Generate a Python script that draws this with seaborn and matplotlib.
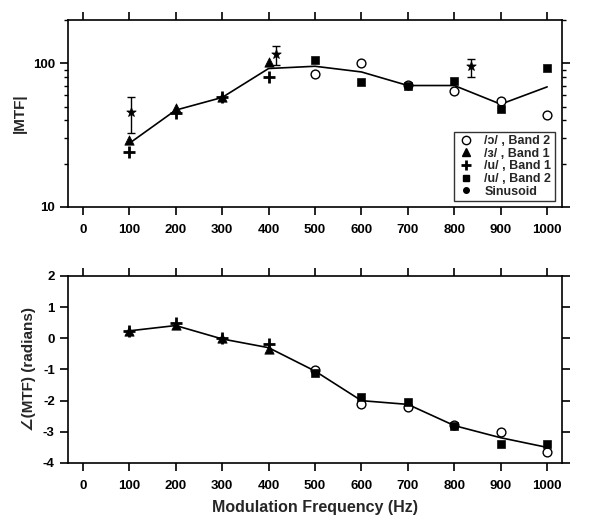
import matplotlib
matplotlib.use('AGG')
import matplotlib.pyplot as plt
from matplotlib.ticker import FixedLocator, NullFormatter, FuncFormatter, LogLocator
from matplotlib.lines import Line2D
import seaborn as sns
import numpy as np

freq = [100, 200, 300, 400, 500, 600, 700, 800, 900, 1000]

# magnitude panel
mag_fit = [27.7, 47.2, 57.8, 91.9, 95.3, 87.0, 70.0, 70.0, 51.9, 68.5]
o2_x = [500, 600, 700, 800, 900, 1000]
o2_mag = [84.8, 100.5, 71.0, 64.2, 54.7, 43.5]
e1_x = [100, 200, 300, 400]
e1_mag = [29.2, 49.0, 58.0, 102.0]
u1_x = [100, 200, 300, 400]
u1_mag = [24.2, 45.2, 58.0, 80.3]
u2_x = [500, 600, 700, 800, 900, 1000]
u2_mag = [105.0, 73.5, 70.0, 75.0, 48.2, 93.3]
sin_x = [103, 417, 835]
sin_mag = [45.9, 116.8, 95.3]
sin_lo = [32.8, 96.8, 80.3]
sin_hi = [58.3, 131.0, 106.6]

# phase panel
phase_fit = [0.24, 0.41, -0.02, -0.30, -1.05, -2.00, -2.12, -2.80, -3.19, -3.50]
o2_ph = [-1.02, -2.11, -2.21, -2.77, -3.00, -3.66]
e1_ph = [0.24, 0.43, 0.02, -0.35]
u1_ph = [0.24, 0.48, 0.00, -0.19]
u2_ph = [-1.12, -1.89, -2.03, -2.81, -3.39, -3.39]

labels = ['/\u0254/ , Band 2', '/\u025c/ , Band 1', '/u/ , Band 1', '/u/ , Band 2', 'Sinusoid']

sns.set_style('ticks')
plt.rcParams['font.family'] = ['Liberation Sans', 'DejaVu Sans']
plt.rcParams['font.weight'] = 'bold'
plt.rcParams['axes.labelweight'] = 'bold'
plt.rcParams['axes.unicode_minus'] = False
plt.rcParams['axes.linewidth'] = 1.2
for a in ('x', 'y'):
    plt.rcParams[a + 'tick.direction'] = 'out'
    plt.rcParams[a + 'tick.major.size'] = 6
    plt.rcParams[a + 'tick.minor.size'] = 3
    plt.rcParams[a + 'tick.major.width'] = 1.2
    plt.rcParams[a + 'tick.minor.width'] = 1.0
    plt.rcParams[a + 'tick.color'] = 'black'
    plt.rcParams[a + 'tick.labelsize'] = 9.5

fig = plt.figure(figsize=(6, 5.26), dpi=100)
ax1 = fig.add_axes([0.1133, 0.6065, 0.8234, 0.3555])
ax2 = fig.add_axes([0.1133, 0.1198, 0.8234, 0.3555])

def draw_points(ax, o, e, u, u2):
    sns.scatterplot(x=o2_x, y=o, ax=ax, marker='o', s=40, facecolor='white',
                    edgecolor='black', linewidth=1.0, zorder=3)
    sns.scatterplot(x=e1_x, y=e, ax=ax, marker='^', s=45, color='black',
                    edgecolor='black', zorder=3)
    sns.scatterplot(x=u1_x, y=u, ax=ax, marker='+', s=70, color='black',
                    linewidth=2.0, zorder=3)
    sns.scatterplot(x=u2_x, y=u2, ax=ax, marker='s', s=32, color='black',
                    edgecolor='black', zorder=3)

sns.lineplot(x=freq, y=mag_fit, ax=ax1, color='black', linewidth=1.2, zorder=2)
draw_points(ax1, o2_mag, e1_mag, u1_mag, u2_mag)
err = [np.array(sin_mag) - np.array(sin_lo), np.array(sin_hi) - np.array(sin_mag)]
ax1.errorbar(sin_x, sin_mag, yerr=err, fmt='none', ecolor='black', elinewidth=1.0,
             capsize=3, capthick=1.0, zorder=3)
sns.scatterplot(x=sin_x, y=sin_mag, ax=ax1, marker='*', s=50, color='black',
                edgecolor='black', zorder=4)

sns.lineplot(x=freq, y=phase_fit, ax=ax2, color='black', linewidth=1.2, zorder=2)
draw_points(ax2, o2_ph, e1_ph, u1_ph, u2_ph)

ax1.set_yscale('log')
ax1.set_ylim(10, 200)
ax1.yaxis.set_major_locator(FixedLocator([10, 100]))
ax1.yaxis.set_major_formatter(FuncFormatter(lambda v, p: '%d' % v))
ax1.yaxis.set_minor_locator(LogLocator(base=10, subs=np.arange(2, 10)))
ax1.yaxis.set_minor_formatter(NullFormatter())
ax1.set_ylabel('|MTF|', fontsize=11, labelpad=4)

ax2.set_ylim(-4, 2)
ax2.set_yticks([-4, -3, -2, -1, 0, 1, 2])
ax2.set_ylabel('\u2220(MTF) (radians)', fontsize=11, labelpad=5)
ax2.set_xlabel('Modulation Frequency (Hz)', fontsize=11.5, labelpad=6)

for ax in (ax1, ax2):
    ax.set_xlim(-32, 1032)
    ax.set_xticks(range(0, 1001, 100))
    ax.tick_params(axis='both', which='both', top=True, right=True)
    ax.tick_params(axis='x', which='major', pad=6)
    for sp in ax.spines.values():
        sp.set_visible(True)
        sp.set_color('black')

handles = [
    Line2D([], [], linestyle='none', marker='o', markersize=6, markerfacecolor='white',
           markeredgecolor='black'),
    Line2D([], [], linestyle='none', marker='^', markersize=6, color='black'),
    Line2D([], [], linestyle='none', marker='+', markersize=7, markeredgewidth=2, color='black'),
    Line2D([], [], linestyle='none', marker='s', markersize=5, color='black'),
    Line2D([], [], linestyle='none', marker='o', markersize=4, color='black'),
]
leg = ax1.legend(handles, labels, loc='lower right', bbox_to_anchor=(0.99, 0.02),
                 fontsize=9, frameon=True, fancybox=False, edgecolor='black',
                 handletextpad=0.8, borderpad=0.25, labelspacing=0.05, handlelength=1.4,
                 borderaxespad=0.2)
leg.get_frame().set_linewidth(1.0)

fig.savefig('out.png', dpi=100)
